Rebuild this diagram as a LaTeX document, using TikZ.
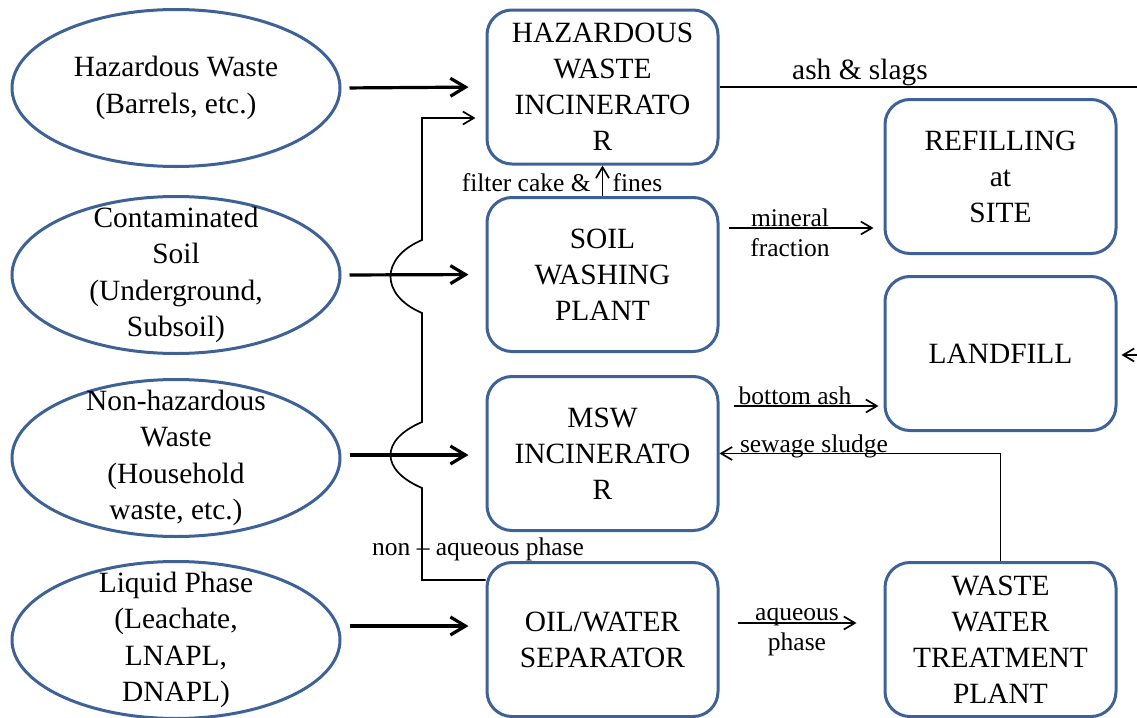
\documentclass[tikz,border=0pt]{standalone}
\usepackage{fontspec}
\setmainfont{Liberation Serif}
\usetikzlibrary{shapes.geometric}
\usetikzlibrary{arrows.meta}
\definecolor{boxblue}{RGB}{62,98,150}
\tikzset{
	sourcestyle/.style={ellipse, draw=boxblue, line width=1.5pt, minimum width=164pt, minimum height=78.5pt, inner sep=0pt},
	sourcetext/.style={inner sep=0pt, align=center, font=\fontsize{14.7}{18.3}\selectfont},
	plantstyle/.style={rectangle, rounded corners=12.5pt, draw=boxblue, line width=1.5pt, minimum width=115.5pt, minimum height=77pt, inner sep=2pt, align=center, font=\fontsize{14.7}{18}\selectfont},
	labelstyle/.style={inner sep=0pt, align=center, font=\fontsize{12.75}{15}\selectfont},
	feed/.style={line width=1.6pt, shorten <=4pt, shorten >=8.5pt, -{Straight Barb[length=7.5pt, width=9pt]}},
	flow/.style={line width=0.85pt, -{Straight Barb[length=5.5pt, width=6.5pt]}},
	plainline/.style={line width=0.85pt}
}

\begin{document}
\begin{tikzpicture}[x=0.5pt, y=-0.5pt]
\useasboundingbox (0,0) rectangle (1137,718);

\def\xa{176}
\def\xb{602.5}
\def\xc{1000.5}

\node[sourcestyle, label={[sourcetext]center:{Hazardous Waste\\(Barrels, etc.)}}] (s1) at (\xa, 88) {};
\node[sourcestyle, label={[sourcetext]center:{Contaminated\\Soil\\(Underground,\\Subsoil)}}] (s2) at (\xa, 275) {};
\node[sourcestyle, label={[sourcetext]center:{Non-hazardous\\Waste\\(Household\\waste, etc.)}}] (s3) at (\xa, 458) {};
\node[sourcestyle, label={[sourcetext]center:{Liquid Phase\\(Leachate,\\LNAPL,\\DNAPL)}}] (s4) at (\xa, 640) {};

\node[plantstyle] (p1) at (\xb, 87)    {HAZARDOUS\\WASTE\\INCINERATO\\R};
\node[plantstyle] (p2) at (\xb, 274.5) {SOIL\\WASHING\\PLANT};
\node[plantstyle] (p3) at (\xb, 453.5) {MSW\\INCINERATO\\R};
\node[plantstyle] (p4) at (\xb, 639.5) {OIL/WATER\\SEPARATOR};

\node[plantstyle] (r1) at (\xc, 176.5) {REFILLING\\at\\SITE};
\node[plantstyle] (r2) at (\xc, 353.5) {LANDFILL};
\node[plantstyle] (r3) at (\xc, 639.5) {WASTE\\WATER\\TREATMENT\\PLANT};

\coordinate (ashend) at (1137, 87);
\coordinate (lfin) at (1137, 355);

\node[labelstyle, font=\fontsize{14.7}{18}\selectfont, anchor=base] (l1) at (860, 79) {ash \& slags};
\node[labelstyle, anchor=base] (l2) at (562, 191) {filter cake \&\hspace{11pt}fines};
\node[labelstyle] (l3) at (790, 232.5) {mineral\\fraction};
\node[labelstyle, anchor=base] (l4) at (795, 404) {bottom ash};
\node[labelstyle, anchor=base] (l5) at (814, 452) {sewage sludge};
\node[labelstyle] (l6) at (797, 632) {aqueous\\phase};
\node[labelstyle, anchor=base] (l7) at (478, 555) {non – aqueous phase};

\draw[feed] (s1.east)--(p1.west);
\draw[feed] (s2.east)--(p2.west);
\draw[feed] ([yshift=1.5pt]s3.east)--([yshift=1.5pt]s3.east -| p3.west);
\draw[feed] ([yshift=7pt]s4.east)--([yshift=7pt]s4.east -| p4.west);

\draw[flow] (p2.north)--(p1.south);
\draw[plainline] (p1.east)--(ashend);
\draw[flow, shorten >=2pt] (lfin)--(lfin -| r2.east);
\draw[flow, shorten <=4.5pt, shorten >=5pt] ([yshift=23.25pt]p2.east)--([yshift=23.25pt]p2.east -| r1.west);
\draw[flow, shorten <=7pt, shorten >=2.5pt] ([yshift=23.75pt]p3.east)--([yshift=23.75pt]p3.east -| r2.west);
\draw[flow] (r3.north) |- (p3.east);
\draw[flow, shorten <=9pt, shorten >=13.5pt] ([yshift=8.25pt]p4.east)--([yshift=8.25pt]p4.east -| r3.west);

\draw[flow, shorten >=5pt] ([yshift=29.75pt]p4.west)--(422, 580)--(422, 488)
	.. controls (380, 470) and (380, 440) .. (422, 422)--(422, 313)
	.. controls (380, 295) and (380, 258) .. (422, 240)--(422, 118)--([yshift=-15.5pt]p1.west);
\end{tikzpicture}
\end{document}
